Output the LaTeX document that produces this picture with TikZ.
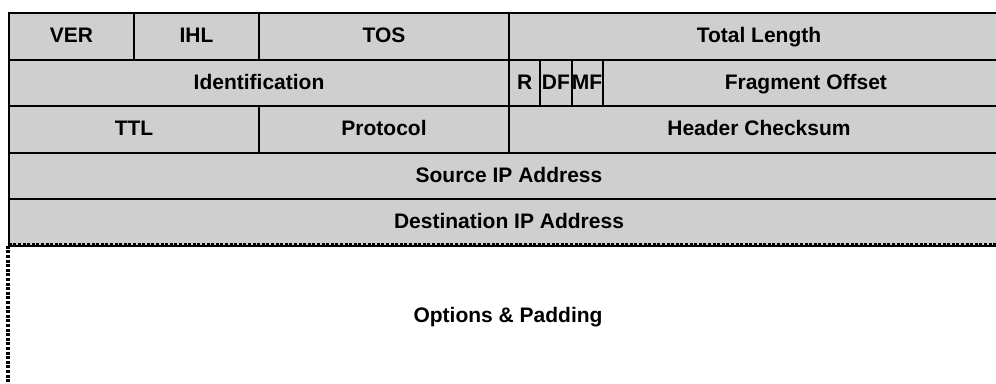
\documentclass[tikz,border=0pt]{standalone}
\usepackage{fontspec}
\setmainfont{Liberation Sans}
\definecolor{cellgray}{RGB}{207,207,207}
\begin{document}
\begin{tikzpicture}[x=1pt,y=-1pt,
  cell/.style={draw=black, line width=2pt, fill=cellgray, anchor=north west,
    inner sep=0pt, minimum height=46.6pt, text height=12.5pt, text depth=0pt,
    font=\fontsize{21}{24}\selectfont\bfseries},
  dashline/.style={draw=black, line width=3.2pt, dash pattern=on 3pt off 1.6pt},
  lbl/.style={inner sep=0pt, anchor=base, font=\fontsize{21}{24}\selectfont\bfseries}]
\useasboundingbox (0,0) rectangle (996,383);
\clip (0,0) rectangle (996,383);
% row 1
\node[cell, minimum width=125pt] (ver) at (8,12) {VER};
\node[cell, minimum width=125pt] (ihl) at (133,12) {IHL};
\node[cell, minimum width=250pt] (tos) at (258,12) {TOS};
\node[cell, minimum width=500pt] (totlen) at (508,12) {Total Length};
% row 2
\node[cell, minimum width=500pt] (ident) at (8,58.6) {Identification};
\node[cell, minimum width=31.25pt] (rflag) at (508,58.6) {R};
\node[cell, minimum width=31.25pt] (dfflag) at (539.25,58.6) {DF};
\node[cell, minimum width=31.25pt] (mfflag) at (570.5,58.6) {MF};
\node[cell, minimum width=406.25pt] (fragoff) at (601.75,58.6) {Fragment Offset};
% row 3
\node[cell, minimum width=250pt] (ttl) at (8,105.2) {TTL};
\node[cell, minimum width=250pt] (proto) at (258,105.2) {Protocol};
\node[cell, minimum width=500pt] (hcs) at (508,105.2) {Header Checksum};
% row 4, 5
\node[cell, minimum width=1000pt] (srcip) at (8,151.8) {Source IP Address};
\node[cell, minimum width=1000pt] (dstip) at (8,198.4) {Destination IP Address};
% options
\coordinate (optTL) at (8,245);
\coordinate (optTR) at (1010,245);
\coordinate (optBL) at (8,400);
\draw[dashline] (optTR) -- (optTL) -- (optBL);
\node[lbl] (opts) at (508,322) {Options \& Padding};
\end{tikzpicture}
\end{document}
